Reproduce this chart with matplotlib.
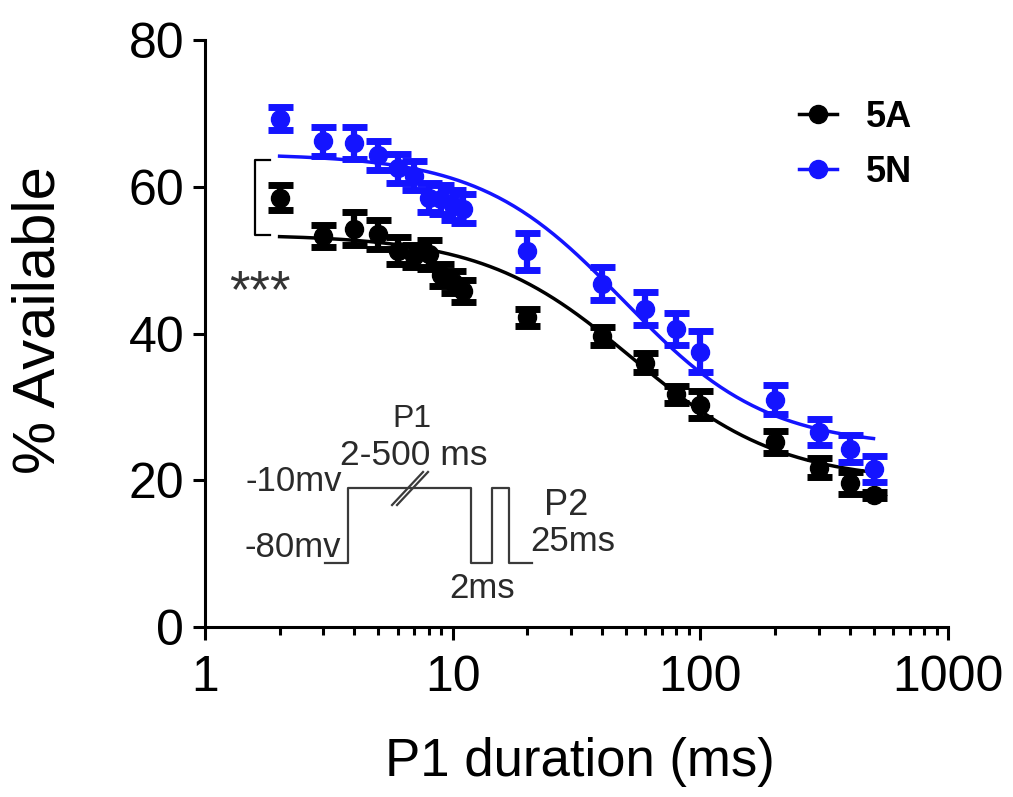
import numpy as np
import matplotlib
matplotlib.use('Agg')
import matplotlib.pyplot as plt
from matplotlib.lines import Line2D

plt.rcParams['font.family'] = ['Liberation Sans', 'DejaVu Sans']

# P1 durations (ms)
durations = [2, 3, 4, 5, 6, 7, 8, 9, 10, 11, 20, 40, 60, 80, 100, 200, 300, 400, 500]

# % available, mean and SEM
avail_5a = [58.5, 53.3, 54.3, 53.5, 51.3, 50.5, 50.8, 48.0, 47.0, 45.8,
            42.2, 39.7, 36.0, 31.7, 30.3, 25.2, 21.7, 19.6, 18.0]
sem_5a = [1.7, 1.5, 2.2, 2.0, 1.8, 1.5, 2.0, 1.5, 1.5, 1.5,
          1.2, 1.2, 1.3, 1.2, 1.8, 1.5, 1.3, 1.5, 0.4]
avail_5n = [69.3, 66.2, 66.0, 64.3, 62.5, 61.5, 58.5, 58.3, 57.5, 57.0,
            51.2, 46.8, 43.4, 40.6, 37.5, 31.0, 26.6, 24.3, 21.5]
sem_5n = [1.6, 2.0, 2.2, 2.0, 2.0, 2.0, 2.0, 2.0, 2.0, 2.0,
          2.5, 2.2, 2.2, 2.2, 2.8, 2.0, 1.8, 1.8, 1.8]

# sigmoid fit params: top, bottom, log10 x50, hill slope
fit_5a = (53.5, 19.8, 1.725, 1.44)
fit_5n = (64.5, 24.5, 1.689, 1.50)

BLUE = '#1414ff'


def sigmoid(x, top, bottom, logx50, slope):
    return bottom + (top - bottom) / (1 + 10 ** ((np.log10(x) - logx50) * slope))


fig = plt.figure(figsize=(10.13, 7.97), dpi=100)
ax = fig.add_axes([0.2024, 0.2133, 0.7335, 0.7365])

xfit = np.logspace(np.log10(2), np.log10(500), 300)
for vals, err, fit, col, z in [(avail_5a, sem_5a, fit_5a, 'black', 3),
                               (avail_5n, sem_5n, fit_5n, BLUE, 4)]:
    ax.plot(xfit, sigmoid(xfit, *fit), color=col, lw=2.5, zorder=z)
    ax.errorbar(durations, vals, yerr=err, fmt='o', color=col, ms=13,
                elinewidth=4.5, capsize=9, capthick=5, zorder=z + 2)

ax.set_xscale('log')
ax.set_xlim(1, 1000)
ax.set_ylim(0, 80)
ax.set_yticks([0, 20, 40, 60, 80])
ax.set_xticks([1, 10, 100, 1000])
ax.set_xticklabels(['1', '10', '100', '1000'])

for s in ['top', 'right']:
    ax.spines[s].set_visible(False)
for s in ['left', 'bottom']:
    ax.spines[s].set_linewidth(2.2)
ax.tick_params(axis='both', which='major', length=9, width=2.2, labelsize=36, pad=6)
ax.tick_params(axis='x', which='major', pad=11)
ax.tick_params(axis='x', which='minor', length=5.5, width=2.2)
ax.tick_params(axis='y', which='minor', length=0)

ax.set_xlabel('P1 duration (ms)', fontsize=38)
ax.xaxis.set_label_coords(0.505, -0.188)
ax.set_ylabel('% Available', fontsize=43)
ax.yaxis.set_label_coords(-0.186, 0.523)

# legend
handles = [Line2D([], [], color='black', marker='o', ms=13, lw=2.5),
           Line2D([], [], color=BLUE, marker='o', ms=13, lw=2.5)]
ax.legend(handles, ['5A', '5N'], loc='upper left', bbox_to_anchor=(0.80, 0.898),
          frameon=False, prop=dict(size=26, weight='bold'), handlelength=1.05,
          handletextpad=0.8, labelspacing=0.55, borderpad=0, borderaxespad=0)

# significance bracket
ax.plot([0.0875, 0.0673, 0.0673, 0.0875], [0.7956, 0.7956, 0.6678, 0.6678],
        transform=ax.transAxes, color='black', lw=1.6, clip_on=False)
ax.text(0.074, 0.545, '***', transform=ax.transAxes, fontsize=38,
        color='#333333', ha='center', va='baseline')

# voltage protocol
gray = '#3a3a3a'
px = [0.1615, 0.1925, 0.1925, 0.358, 0.358, 0.3863, 0.3863, 0.4092, 0.4092, 0.4401]
py = [0.109, 0.109, 0.2368, 0.2368, 0.109, 0.109, 0.2368, 0.2368, 0.109, 0.109]
ax.plot(px, py, transform=ax.transAxes, color=gray, lw=1.6)
for dx in (0.0, 0.0067):
    ax.plot([0.2517 + dx, 0.2934 + dx], [0.2078, 0.2641],
            transform=ax.transAxes, color=gray, lw=1.6)

txt = dict(transform=ax.transAxes, color='#2a2a2a', va='center')
ax.text(0.1844, 0.2487, '-10mv', ha='right', fontsize=25, **txt)
ax.text(0.1830, 0.1346, '-80mv', ha='right', fontsize=25, **txt)
ax.text(0.2786, 0.3543, 'P1', ha='center', fontsize=23, **txt)
ax.text(0.2813, 0.2930, '2-500 ms', ha='center', fontsize=25.5, **txt)
ax.text(0.3728, 0.0664, '2ms', ha='center', fontsize=25, **txt)
ax.text(0.4859, 0.2078, 'P2', ha='center', fontsize=26, **txt)
ax.text(0.4953, 0.1465, '25ms', ha='center', fontsize=25, **txt)

fig.savefig('out.png', dpi=100)
